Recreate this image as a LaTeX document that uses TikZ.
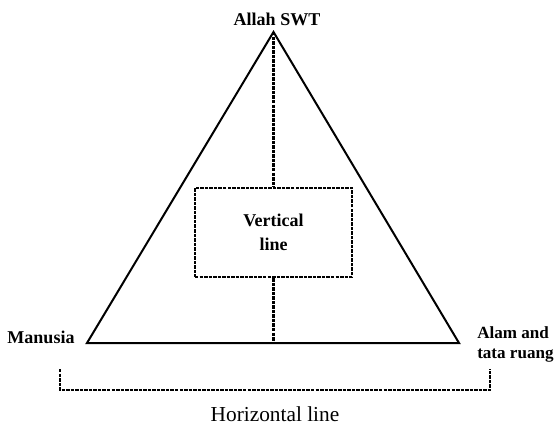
\documentclass[tikz,border=0pt]{standalone}
\usepackage{fontspec}
\setmainfont{Liberation Serif}
\usetikzlibrary{positioning}

\tikzset{
  dotline/.style={line width=1.6pt,dash pattern=on 2.6pt off 0.8pt},
  lbl/.style={font=\bfseries\fontsize{13.5}{17}\selectfont,align=center,inner sep=0pt}
}

\begin{document}
\begin{tikzpicture}[x=0.75pt,y=-0.75pt]
  \useasboundingbox (0,0) rectangle (556,424);
  % corners of the triangle
  \coordinate (apex) at (273.5,32);
  \coordinate (bl) at (87,343);
  \coordinate (br) at (459,343);
  \coordinate (bm) at (273.5,343);
  \draw[line width=1.5pt,line join=miter] (apex) -- (bl) -- (br) -- cycle;
  % vertical line with its box
  \node[draw,dotline,minimum width=117.8pt,minimum height=66.8pt,lbl,font=\bfseries\fontsize{13.5}{18}\selectfont] (vbox) at (273.5,232.5) {Vertical\\line};
  \draw[dotline] (apex) -- (vbox.north);
  \draw[dotline] (vbox.south) -- (bm);
  % labels
  \node[lbl,anchor=base] (allah) at (277,26) {Allah SWT};
  \node[lbl,anchor=base] (manusia) at (41,343) {Manusia};
  \node[lbl,font=\bfseries\fontsize{12.8}{16}\selectfont,anchor=base west] (alam) at (477,338) {Alam and};
  \node[lbl,font=\bfseries\fontsize{12.8}{16}\selectfont,anchor=base west] (tata) at (477,358) {tata ruang};
  % horizontal line
  \coordinate (hl) at (60,369);
  \coordinate (hr) at (490,369);
  \coordinate (hm) at (275,390);
  \draw[dotline] (hl) |- (hm) -| (hr);
  \node[lbl,font=\fontsize{16}{19}\selectfont,anchor=base] (hline) at (275,421) {Horizontal line};
\end{tikzpicture}
\end{document}
